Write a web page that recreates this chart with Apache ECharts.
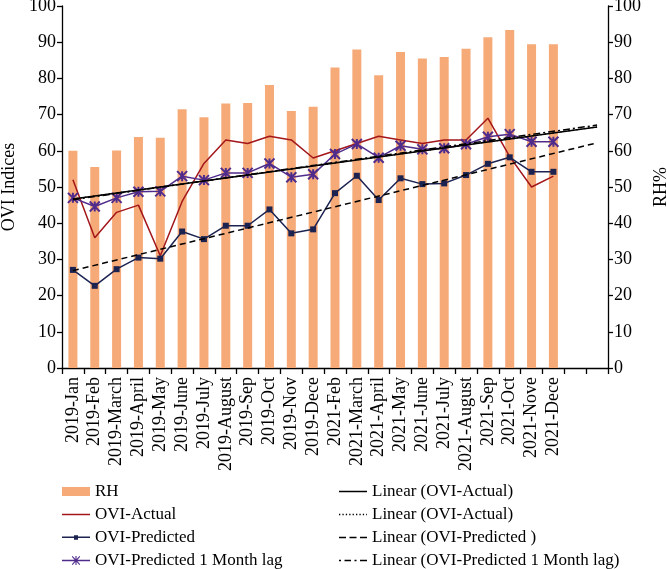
<!DOCTYPE html>
<html>
<head>
<meta charset="utf-8">
<script src="https://cdn.jsdelivr.net/npm/echarts@6/dist/echarts.min.js"></script>
<style>html,body{margin:0;padding:0;background:#fff;}#c{width:667px;height:569px;}</style>
</head>
<body>
<div id="c"></div>
<script>
var categories = ['2019-Jan','2019-Feb','2019-March','2019-April','2019-May','2019-June','2019-July','2019-August','2019-Sep','2019-Oct','2019-Nov','2019-Dece','2021-Feb','2021-March','2021-April','2021-May','2021-June','2021-July','2021-August','2021-Sep','2021-Oct','2021-Nove','2021-Dece','',' '];
var rh = [60.0,55.5,60.1,63.8,63.6,71.5,69.3,73.1,73.2,78.2,71.0,72.2,83.0,88.0,80.9,87.3,85.5,85.9,88.2,91.4,93.4,89.4,89.4];
var oviActual = [52,36,43,45,31,46,56.5,63,62,64,63,58,60,62,64,63,62,63,63,69,58.4,50,53];
var oviPredicted = [27.1,22.7,27.3,30.5,30.2,37.7,35.6,39.3,39.3,43.8,37.2,38.3,48.3,53.1,46.4,52.4,50.8,51.0,53.3,56.4,58.2,54.2,54.2];
var oviLag = [47,44.6,47,48.7,48.8,53,51.9,53.9,53.9,56.5,52.7,53.5,59.1,61.9,58.1,61.4,60.4,60.7,61.8,63.9,64.6,62.5,62.5];
// trendline end values (start at first category, end 2 periods beyond the last)
var trendActual = [46.7, 66.6];
var trendActualDot = [46.7, 66.6];
var trendPredicted = [26.9, 62.2];
var trendLag = [46.5, 67.1];
var trendIdx = [0, 24];
var yTicks = {min: 0, max: 100, interval: 10};

function trendData(v){ return [[trendIdx[0], v[0]], [trendIdx[1], v[1]]]; }

// legend icon paths (28 wide)
function segs(list, y, h){
  return list.map(function(s){ return 'M' + s[0] + ',' + y + 'h' + (s[1]-s[0]) + 'v' + h + 'h-' + (s[1]-s[0]) + 'z'; }).join(' ');
}
var dotList = [];
for (var d = 0; d < 28; d += 3.4) dotList.push([d, Math.min(d + 1.3, 28)]);
var iconSolid = 'path://' + segs([[0,28]], 0, 1.5);
var iconDotted = 'path://' + segs(dotList, 0, 1.3);
var iconDashed = 'path://' + segs([[0,7],[10.5,17.5],[21,28]], 0, 1.5);
var iconDashDot = 'path://' + segs([[0,2],[5.5,12],[15.5,17.5],[21,28]], 0, 1.5);
var iconSquare = 'path://' + segs([[0,28]], 3.75, 1.5) + ' M12,2.5h4v4.5h-4z';
var iconStar = 'path://' + segs([[0,28]], 3.85, 1.3) + ' M13.45,0h1.1v9h-1.1z M9.8,0.8 L10.6,0 L18.2,8.2 L17.4,9 Z M17.4,0 L18.2,0.8 L10.6,9 L9.8,8.2 Z';

var FONT = 'Liberation Serif';
var chart = echarts.init(document.getElementById('c'), null, {renderer: 'canvas'});
var asterisk = 'path://M0,0 L10,10 M10,0 L0,10 M5,0 L5,10';
var axisCommon = {
  min: yTicks.min, max: yTicks.max, interval: yTicks.interval,
  splitLine: {show: false},
  axisLine: {show: true, lineStyle: {color: '#000', width: 1.3}},
  axisTick: {show: true, length: 5, lineStyle: {color: '#000', width: 1.3}},
  axisLabel: {color: '#000', fontFamily: FONT, fontSize: 18, margin: 6},
  nameLocation: 'middle', nameRotate: 90,
  nameTextStyle: {color: '#000', fontFamily: FONT, fontSize: 18}
};
function leg(name, icon, left, top){
  return {
    orient: 'vertical', left: left, top: top, itemWidth: 28, itemHeight: 9, padding: 0,
    textStyle: {color: '#000', fontFamily: FONT, fontSize: 17},
    itemStyle: {borderWidth: 0},
    data: [{name: name, icon: icon, itemStyle: {borderWidth: 0}}]
  };
}
var option = {
  animation: false,
  backgroundColor: '#fff',
  grid: {left: 62, right: 59, top: 6, bottom: 201, containLabel: false, outerBoundsMode: 'none'},
  xAxis: {
    type: 'category', data: categories, boundaryGap: true,
    axisLine: {lineStyle: {color: '#000', width: 1.3}},
    axisTick: {show: true, length: 6, interval: 0, lineStyle: {color: '#000', width: 1.3}},
    axisLabel: {interval: 0, rotate: 90, color: '#000', fontFamily: FONT, fontSize: 18, margin: 9}
  },
  yAxis: [
    Object.assign({}, axisCommon, {type: 'value', position: 'left', name: 'OVI Indices', nameGap: 43}),
    Object.assign({}, axisCommon, {type: 'value', position: 'right', name: 'RH%', nameGap: 42})
  ],
  legend: [
    leg('RH', 'rect', 62, 483),
    leg('OVI-Actual', iconSolid, 62, 506),
    leg('OVI-Predicted', iconSquare, 62, 529),
    leg('OVI-Predicted 1 Month lag', iconStar, 62, 552),
    leg('Linear (OVI-Actual)', iconSolid, 339, 483),
    leg('Linear (OVI-Actual) ', iconDotted, 339, 506),
    leg('Linear (OVI-Predicted )', iconDashed, 339, 529),
    leg('Linear (OVI-Predicted 1 Month lag)', iconDashDot, 339, 552)
  ],
  series: [
    {name: 'RH', type: 'bar', yAxisIndex: 1, data: rh, barWidth: 9,
     itemStyle: {color: '#F5AA78'}, z: 1},
    {name: 'OVI-Actual', type: 'line', data: oviActual, symbol: 'none',
     lineStyle: {color: '#A3161A', width: 1.5}, itemStyle: {color: '#A3161A'}, z: 3},
    {name: 'OVI-Predicted', type: 'line', data: oviPredicted, symbol: 'rect', symbolSize: 6,
     lineStyle: {color: '#1C2350', width: 1.5}, itemStyle: {color: '#1C2350'}, z: 3},
    {name: 'OVI-Predicted 1 Month lag', type: 'line', data: oviLag, symbol: asterisk, symbolSize: 10,
     lineStyle: {color: '#4F2C8C', width: 1.5},
     itemStyle: {color: '#4F2C8C', borderColor: '#4F2C8C', borderWidth: 2}, z: 4},
    {name: 'Linear (OVI-Actual)', type: 'line', data: trendData(trendActual), symbol: 'none',
     lineStyle: {color: '#000', width: 1.5, type: 'solid'}, itemStyle: {color: '#000'}, z: 5},
    {name: 'Linear (OVI-Actual) ', type: 'line', data: trendData(trendActualDot), symbol: 'none',
     lineStyle: {color: '#000', width: 1.2, type: [1.5, 2.5]}, itemStyle: {color: '#000'}, z: 5},
    {name: 'Linear (OVI-Predicted )', type: 'line', data: trendData(trendPredicted), symbol: 'none',
     lineStyle: {color: '#000', width: 1.5, type: [6, 4]}, itemStyle: {color: '#000'}, z: 5},
    {name: 'Linear (OVI-Predicted 1 Month lag)', type: 'line', data: trendData(trendLag), symbol: 'none',
     lineStyle: {color: '#000', width: 1.5, type: [7, 3, 2, 3]}, itemStyle: {color: '#000'}, z: 5}
  ]
};
chart.setOption(option);
</script>
</body>
</html>
